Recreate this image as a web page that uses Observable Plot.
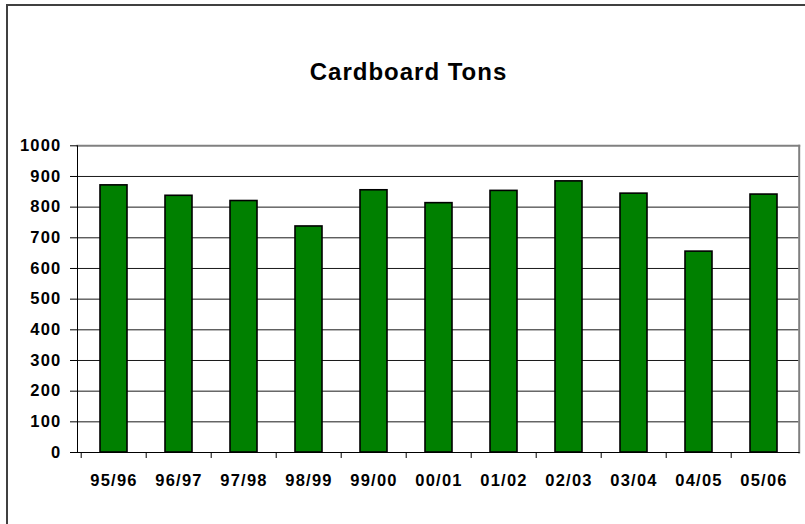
<!DOCTYPE html>
<html>
<head>
<meta charset="utf-8">
<script src="https://cdn.jsdelivr.net/npm/d3@7"></script>
<script src="https://cdn.jsdelivr.net/npm/@observablehq/plot@0.6"></script>
<style>
  html, body { margin: 0; padding: 0; background: #fff; }
  #wrap { position: relative; width: 805px; height: 524px; overflow: hidden; background: #fff; }
  #border { position: absolute; left: 6px; top: 4px; right: -10px; bottom: -10px;
            border-left: 2px solid #404040; border-top: 2px solid #404040; }
  #title { position: absolute; top: 60px; left: 0; width: 817px; text-align: center;
           font-family: "Liberation Sans", Arial, sans-serif; font-weight: bold;
           font-size: 24px; line-height: 24px; letter-spacing: 1px; color: #000; }
  #chart { position: absolute; left: 0; top: 0; }
</style>
</head>
<body>
<div id="wrap">
  <div id="chart"></div>
  <div id="border"></div>
  <div id="title">Cardboard Tons</div>
</div>
<script>
const years = ["95/96","96/97","97/98","98/99","99/00","00/01","01/02","02/03","03/04","04/05","05/06"];
const tons = [871, 837, 820, 737, 855, 813, 853, 884, 844, 655, 841];
const yTicks = [0,100,200,300,400,500,600,700,800,900,1000];

const data = years.map((year, i) => ({year, tons: tons[i]}));

const W = 805, H = 524;
const mL = 77, mR = 6.3, mT = 145.3, mB = 72;
const step = (W - mL - mR) / years.length;
const font = {fontFamily: "Liberation Sans, Arial, sans-serif", fontWeight: "bold", fontSize: 16.5};

const chart = Plot.plot({
  width: W,
  height: H,
  marginLeft: mL,
  marginRight: mR,
  marginTop: mT,
  marginBottom: mB,
  style: {background: "transparent", color: "#000", letterSpacing: "1.2px", overflow: "visible"},
  x: {domain: years, paddingInner: 0.59, paddingOuter: 0.295, label: null},
  y: {domain: [0, 1000], label: null},
  marks: [
    Plot.gridY(yTicks.filter(d => d > 0 && d < 1000), {stroke: "#000", strokeOpacity: 0.9, strokeWidth: 1}),
    Plot.frame({anchor: "top", stroke: "#808080", strokeWidth: 2}),
    Plot.frame({anchor: "right", stroke: "#808080", strokeWidth: 2}),
    Plot.barY(data, {x: "year", y: "tons", fill: "#008000", stroke: "#000", strokeWidth: 1.6}),
    Plot.frame({anchor: "left", stroke: "#000", strokeWidth: 1}),
    Plot.frame({anchor: "bottom", stroke: "#000", strokeWidth: 1}),
    Plot.axisY({ticks: yTicks, tickSize: 7, tickPadding: 9, tickFormat: d => String(d), stroke: "#000", ...font}),
    Plot.axisX({ticks: years, tickSize: 6, dx: -step / 2, tickFormat: () => "", stroke: "#000"}),
    Plot.axisX({ticks: years, tickSize: 0, tickPadding: 22, ...font})
  ]
});
document.getElementById("chart").appendChild(chart);
</script>
</body>
</html>
